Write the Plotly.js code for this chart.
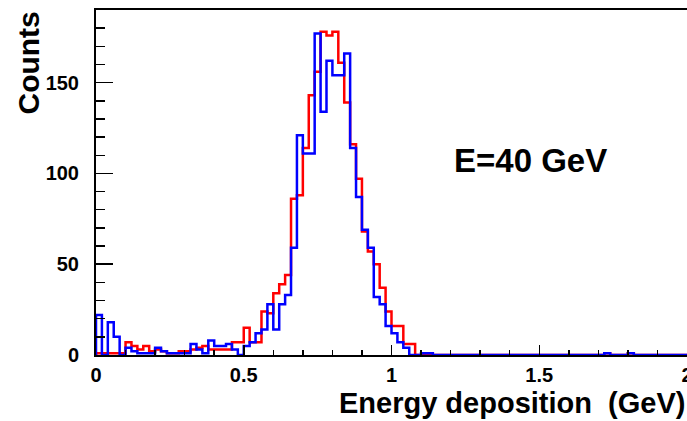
<!DOCTYPE html>
<html>
<head>
<meta charset="utf-8">
<script src="https://cdn.plot.ly/plotly-3.0.1.min.js"></script>
<style>html,body{margin:0;padding:0;background:#fff;}#chart{width:687px;height:421px;}</style>
</head>
<body>
<div id="chart"></div>
<script>
// Histogram: 100 bins of width 0.02 GeV from 0 to 2 GeV
const xMin = 0;
const binWidth = 0.02;

// Counts per bin (red histogram)
const redCounts = [
  1, 1, 1, 1, 1, 7, 5, 3, 5, 2,
  3, 2, 1, 1, 2, 2, 3, 4, 5, 3,
  3, 3, 3, 7, 7, 15, 7, 7, 24, 23,
  34, 39, 44, 86, 88, 114, 143, 156, 178, 176,
  178, 161, 139, 116, 97, 68, 57, 50, 37, 24,
  16, 16, 6, 6, 0, 0, 0, 0, 0, 0,
  0, 0, 0, 0, 0, 0, 0, 0, 0, 0,
  0, 0, 0, 0, 0, 0, 0, 0, 0, 0,
  0, 0, 0, 0, 0, 0, 1, 0, 0, 0,
  1, 0, 0, 0, 0, 0, 0, 0, 0, 0
];

// Counts per bin (blue histogram)
const blueCounts = [
  22, 0, 18, 10, 0, 4, 2, 1, 1, 1,
  4, 2, 1, 1, 1, 1, 6, 3, 1, 8,
  5, 5, 6, 3, 0, 5, 7, 12, 14, 28,
  14, 28, 33, 59, 121, 111, 111, 177, 134, 162,
  154, 154, 166, 114, 87, 69, 59, 32, 28, 16,
  12, 7, 4, 0, 0, 1, 1, 0, 0, 0,
  0, 0, 0, 0, 0, 0, 0, 0, 0, 0,
  0, 0, 0, 0, 0, 0, 0, 0, 0, 0,
  0, 0, 0, 0, 0, 0, 1, 0, 0, 0,
  1, 0, 0, 0, 0, 0, 0, 0, 0, 0
];

const xTickVals = [0, 0.5, 1, 1.5, 2];
const xTickText = ['0', '0.5', '1', '1.5', '2'];
const yTickVals = [0, 50, 100, 150];
const yTickText = ['0', '50', '100', '150'];

const xTitle = 'Energy deposition  (GeV)';
const yTitle = 'Counts';
const label = 'E=40 GeV';

function stepLine(counts) {
  const xs = [xMin];
  const ys = [0];
  for (let i = 0; i < counts.length; i++) {
    xs.push(xMin + i * binWidth);
    ys.push(counts[i]);
  }
  xs.push(xMin + counts.length * binWidth);
  ys.push(counts[counts.length - 1]);
  xs.push(xMin + counts.length * binWidth);
  ys.push(0);
  return {xs, ys};
}

const r = stepLine(redCounts);
const b = stepLine(blueCounts);

const fontFam = 'Liberation Sans, Arial, Helvetica, sans-serif';

const traces = [
  {x: r.xs, y: r.ys, type: 'scatter', mode: 'lines', line: {shape: 'hv', color: '#ff0000', width: 2.5}, hoverinfo: 'skip', showlegend: false},
  {x: b.xs, y: b.ys, type: 'scatter', mode: 'lines', line: {shape: 'hv', color: '#0000ff', width: 2.5}, hoverinfo: 'skip', showlegend: false}
];

const layout = {
  width: 687, height: 421,
  margin: {l: 96, r: 0, t: 10, b: 66, pad: 0},
  paper_bgcolor: '#ffffff', plot_bgcolor: '#ffffff',
  showlegend: false,
  font: {family: fontFam, color: '#000000'},
  xaxis: {
    range: [0, 2], showgrid: false, zeroline: false,
    showline: true, linecolor: '#000000', linewidth: 2, mirror: true,
    ticks: 'inside', ticklen: 10, tickwidth: 1.5, tickcolor: '#000000',
    tickvals: xTickVals, ticktext: xTickText,
    ticklabeloverflow: 'allow',
    ticklabelstandoff: 1,
    tickfont: {family: fontFam, size: 20, weight: 'bold', color: '#000000'},
    minor: {dtick: 0.1, tick0: 0, ticks: 'inside', ticklen: 5, tickwidth: 1.5, tickcolor: '#000000', showgrid: false}
  },
  yaxis: {
    range: [0, 190], showgrid: false, zeroline: false,
    showline: true, linecolor: '#000000', linewidth: 2, mirror: true,
    ticks: 'inside', ticklen: 17, tickwidth: 1.5, tickcolor: '#000000',
    tickvals: yTickVals, ticktext: yTickText,
    tickfont: {family: fontFam, size: 20, weight: 'bold', color: '#000000'},
    ticklabelstandoff: 11,
    minor: {dtick: 10, tick0: 0, ticks: 'inside', ticklen: 9, tickwidth: 1.5, tickcolor: '#000000', showgrid: false}
  },
  annotations: [
    {text: yTitle, xref: 'paper', yref: 'paper', x: -0.115, y: 1.0, xanchor: 'center', yanchor: 'top',
     textangle: -90, showarrow: false, font: {family: fontFam, size: 30, weight: 'bold', color: '#000000'}},
    {text: xTitle, xref: 'paper', yref: 'paper', x: 1.0, y: -0.14, xanchor: 'right', yanchor: 'middle',
     showarrow: false, font: {family: fontFam, size: 29, weight: 'bold', color: '#000000'}},
    {text: label, xref: 'x', yref: 'y', x: 1.47, y: 107, xanchor: 'center', yanchor: 'middle',
     showarrow: false, font: {family: fontFam, size: 33, weight: 'bold', color: '#000000'}}
  ]
};

Plotly.newPlot('chart', traces, layout, {staticPlot: true, displayModeBar: false});
</script>
</body>
</html>
